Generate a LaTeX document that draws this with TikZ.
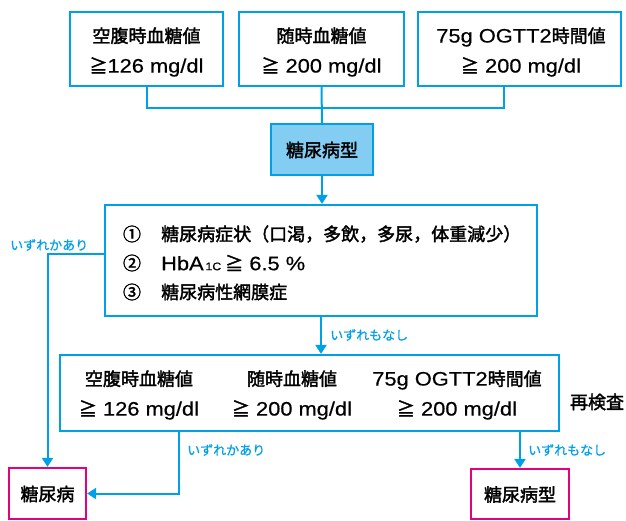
\documentclass[tikz,border=0pt]{standalone}
\usepackage{fontspec}
\setmainfont{Noto Sans CJK JP}[FakeBold=2]
\newfontfamily\lblf{Noto Sans CJK JP}[FakeBold=0.6]
\newfontfamily\latf{Liberation Sans}[FakeStretch=1.12, FakeBold=0.5]
\newcommand{\lt}[1]{{\fontsize{19.5}{30}\latf #1}}
\usetikzlibrary{arrows.meta}
\definecolor{cyanline}{HTML}{00A0E9}
\definecolor{lightfill}{HTML}{83CDF3}
\definecolor{magline}{HTML}{E4007F}
\begin{document}
\begin{tikzpicture}[x=1pt,y=-1pt,
  box/.style={draw=cyanline, line width=2.2pt, rectangle, inner sep=0pt},
  endbox/.style={draw=magline, line width=2.2pt, rectangle, inner sep=0pt},
  conn/.style={draw=cyanline, line width=2pt},
  arr/.style={conn, -{Triangle[length=9pt,width=11pt]}},
  txt/.style={font=\fontsize{18}{30}\selectfont, align=center, inner sep=0pt},
  lbl/.style={font=\fontsize{13}{15}\selectfont\lblf, text=cyanline, inner sep=0pt, anchor=west}]
\useasboundingbox (0,0) rectangle (626,520);
% top boxes
\node[box, minimum width=153pt, minimum height=74pt] (b1) at (146.5,49) {};
\node[box, minimum width=165pt, minimum height=74pt] (b2) at (321.5,49) {};
\node[box, minimum width=203pt, minimum height=74pt] (b3) at (519.5,49) {};
\node[txt] (t1) at (146.5,52) {空腹時血糖値\\≧\lt{126 mg/dl}};
\node[txt] (t2) at (321.5,52) {随時血糖値\\≧\lt{ 200 mg/dl}};
\node[txt] (t3) at (521,52) {\lt{75g OGTT2}時間値\\≧\lt{ 200 mg/dl}};
% type box
\node[box, fill=lightfill, minimum width=102pt, minimum height=51pt] (b4) at (322,149.5) {};
\node[txt] (t4) at (322,150) {糖尿病型};
\coordinate (j) at (322,108);
\draw[conn] (b1.south) |- (j) -| ([xshift=-15.5pt]b3.south);
\draw[conn] (b2.south) -- (b4.north);
% criteria box
\node[box, minimum width=432pt, minimum height=111pt] (b5) at (321,260.5) {};
\draw[arr] (b4.south) -- (b4.south |- b5.north);
\node[txt] (n1) at (132,234) {①};
\node[txt] (n2) at (132,263) {②};
\node[txt] (n3) at (132,292) {③};
\node[txt, anchor=west] (l1) at (161,234) {糖尿病症状（口渇，多飲，多尿，体重減少）};
\node[txt, anchor=west] (l2) at (161,263) {\lt{HbA}{\fontsize{11}{11}\latf\,1C} ≧\lt{ 6.5 \%}};
\node[txt, anchor=west] (l3) at (161,292) {糖尿病性網膜症};
% retest box
\node[box, minimum width=499pt, minimum height=76pt] (b6) at (309.5,393) {};
\draw[arr] (b5.south) -- (b5.south |- b6.north);
\node[txt] (r1) at (139,395) {空腹時血糖値\\≧\lt{ 126 mg/dl}};
\node[txt] (r2) at (292,395) {随時血糖値\\≧\lt{ 200 mg/dl}};
\node[txt] (r3) at (457,395) {\lt{75g OGTT2}時間値\\≧\lt{ 200 mg/dl}};
\node[txt] (re) at (597,402) {再検査};
% result boxes
\node[endbox, minimum width=77pt, minimum height=51pt] (b7) at (47.5,493.5) {};
\node[txt] (t7) at (47.5,494) {糖尿病};
\node[endbox, minimum width=98pt, minimum height=50pt] (b8) at (520,494) {};
\node[txt] (t8) at (520,494.5) {糖尿病型};
\draw[arr] ([yshift=6.5pt]b5.west) -| (b7.north);
\draw[arr] ([xshift=-130.5pt]b6.south) |- (b7.east);
\draw[arr] (b8.north |- b6.south) -- (b8.north);
% labels
\node[lbl] (k1) at (10,245) {いずれかあり};
\node[lbl] (k2) at (330,335) {いずれもなし};
\node[lbl] (k3) at (187,450) {いずれかあり};
\node[lbl] (k4) at (528,450) {いずれもなし};
\end{tikzpicture}
\end{document}
